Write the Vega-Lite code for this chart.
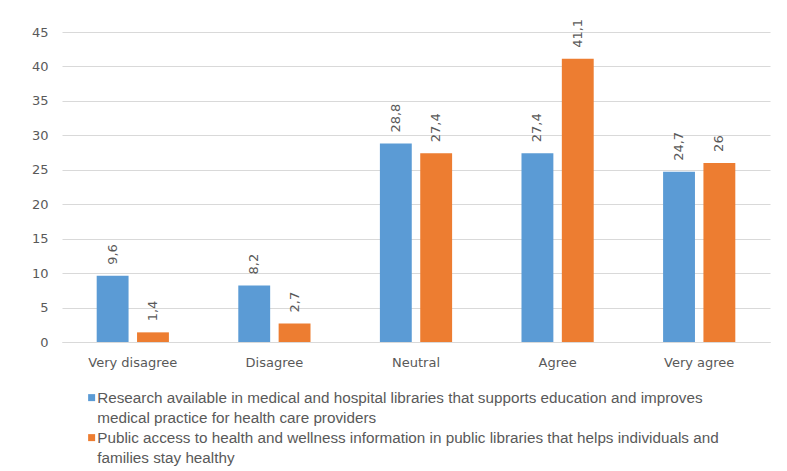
{
  "$schema": "https://vega.github.io/schema/vega-lite/v6.json",
  "width": 708,
  "height": 310,
  "autosize": {"type": "none"},
  "padding": {"left": 62, "top": 32, "right": 17, "bottom": 129},
  "background": "white",
  "config": {
    "locale": {"number": {"decimal": ",", "thousands": ".", "grouping": [3], "currency": ["", ""]}},
    "view": {"stroke": null},
    "font": "DejaVu Sans",
    "style": {"guide-label": {"lineHeight": 20.5}}
  },
  "data": {
    "values": [
      {"category": "Very disagree", "series": "Research", "value": 9.6},
      {"category": "Very disagree", "series": "Public", "value": 1.4},
      {"category": "Disagree", "series": "Research", "value": 8.2},
      {"category": "Disagree", "series": "Public", "value": 2.7},
      {"category": "Neutral", "series": "Research", "value": 28.8},
      {"category": "Neutral", "series": "Public", "value": 27.4},
      {"category": "Agree", "series": "Research", "value": 27.4},
      {"category": "Agree", "series": "Public", "value": 41.1},
      {"category": "Very agree", "series": "Research", "value": 24.7},
      {"category": "Very agree", "series": "Public", "value": 26}
    ]
  },
  "encoding": {
    "x": {
      "field": "category", "type": "nominal",
      "sort": ["Very disagree", "Disagree", "Neutral", "Agree", "Very agree"],
      "scale": {"paddingInner": 0.49, "paddingOuter": 0.245},
      "axis": {
        "title": null, "labelAngle": 0, "ticks": false, "domainColor": "#d9d9d9",
        "labelFontSize": 13, "labelColor": "#595959", "labelPadding": 14
      }
    },
    "xOffset": {
      "field": "series", "type": "nominal", "sort": ["Research", "Public"],
      "scale": {"paddingInner": 0.21, "paddingOuter": 0}
    },
    "y": {
      "field": "value", "type": "quantitative",
      "scale": {"domain": [0, 45], "nice": false},
      "axis": {
        "title": null, "values": [0, 5, 10, 15, 20, 25, 30, 35, 40, 45],
        "ticks": false, "domain": false, "gridColor": "#d9d9d9",
        "labelFontSize": 13, "labelColor": "#595959", "labelPadding": 14
      }
    }
  },
  "layer": [
    {
      "mark": {"type": "bar"},
      "encoding": {
        "color": {
          "field": "series", "type": "nominal",
          "sort": ["Research", "Public"],
          "scale": {"domain": ["Research", "Public"], "range": ["#5b9bd5", "#ed7d31"]},
          "legend": {
            "orient": "none", "legendX": 22, "legendY": 358,
            "title": null, "direction": "vertical",
            "symbolType": "square", "symbolSize": 49, "symbolStrokeWidth": 0,
            "labelFont": "Liberation Sans", "labelFontSize": 15.25, "labelColor": "#595959",
            "labelOffset": -2, "labelLimit": 720, "rowPadding": 3, "padding": 0,
            "labelExpr": "datum.label == 'Research' ? ['Research available in medical and hospital libraries that supports education and improves', 'medical practice for health care providers'] : ['Public access to health and wellness information in public libraries that helps individuals and', 'families stay healthy']",
            "encode": {"labels": {"update": {"lineHeight": {"value": 20.5}}}}
          }
        }
      }
    },
    {
      "mark": {"type": "text", "angle": 270, "align": "left", "baseline": "middle", "dx": 11, "fontSize": 13, "color": "#595959"},
      "encoding": {
        "text": {"field": "value", "type": "quantitative", "format": "~g"}
      }
    }
  ]
}
